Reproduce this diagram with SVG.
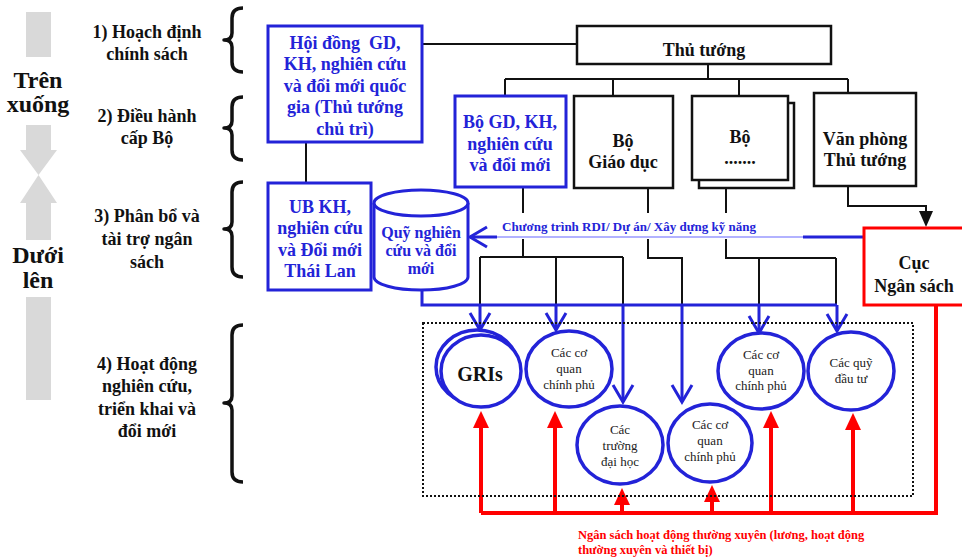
<svg xmlns="http://www.w3.org/2000/svg" width="962" height="559" viewBox="0 0 962 559">
<style>
text{font-family:'Liberation Serif','DejaVu Serif','Times New Roman',serif;text-anchor:middle}
.b{font-weight:bold}
.lbl{font-weight:bold;font-size:18px;fill:#111}
.big{font-weight:bold;font-size:24px;fill:#111}
.bt{font-weight:bold;fill:#2323d8}
.kt{font-weight:bold;font-size:18px;fill:#111}
.ct{font-size:13px;fill:#222}
.bbox{fill:#fff;stroke:#2323d8;stroke-width:3}
.kbox{fill:#fff;stroke:#111;stroke-width:2.5}
.circ{fill:#fff;stroke:#2323d8;stroke-width:3.5}
.kl{fill:none;stroke:#111;stroke-width:2}
.bl{fill:none;stroke:#2323d8;stroke-width:3}
.rl{fill:none;stroke:#ff0000;stroke-width:4}
.gray{fill:#d9d9d9}
.brace{fill:none;stroke:#111;stroke-width:3.5;stroke-linejoin:round}
</style>
<defs>
<marker id="ob" markerUnits="userSpaceOnUse" orient="auto" refX="0" refY="0" overflow="visible" markerWidth="20" markerHeight="22">
<path d="M-17,-10 L0,0 L-17,10" fill="none" stroke="#2323d8" stroke-width="3"/>
</marker>
<marker id="rf" markerUnits="userSpaceOnUse" orient="auto" refX="0" refY="0" overflow="visible" markerWidth="16" markerHeight="16">
<path d="M-1,-8 L16,0 L-1,8 z" fill="#ff0000"/>
</marker>
<marker id="kf" markerUnits="userSpaceOnUse" orient="auto" refX="0" refY="0" overflow="visible" markerWidth="16" markerHeight="16">
<path d="M-1,-7 L15,0 L-1,7 z" fill="#111"/>
</marker>
</defs>

<!-- left gray arrows -->
<g id="side-arrows">
<rect class="gray" x="26" y="12" width="25" height="45"/>
<path class="gray" d="M26,125 H51 V150 H57 L38.5,175 L20,150 H26 Z"/>
<path class="gray" d="M38.5,175 L57,203 H51 V240 H26 V203 H20 Z"/>
<rect class="gray" x="26" y="297" width="25" height="103"/>
<text class="big" x="38" y="88">Trên</text>
<text class="big" x="38" y="112">xuống</text>
<text class="big" x="38" y="263">Dưới</text>
<text class="big" x="38" y="288">lên</text>
</g>

<!-- level labels -->
<g id="levels">
<text class="lbl" x="147" y="38">1) Hoạch định</text>
<text class="lbl" x="147" y="60">chính sách</text>
<text class="lbl" x="147" y="122">2) Điều hành</text>
<text class="lbl" x="147" y="144">cấp Bộ</text>
<text class="lbl" x="147" y="222">3) Phân bổ và</text>
<text class="lbl" x="147" y="245">tài trợ ngân</text>
<text class="lbl" x="147" y="268">sách</text>
<text class="lbl" x="147" y="370">4) Hoạt động</text>
<text class="lbl" x="147" y="392">nghiên cứu,</text>
<text class="lbl" x="147" y="415">triển khai và</text>
<text class="lbl" x="147" y="437">đổi mới</text>
</g>

<!-- braces -->
<g id="braces">
<path class="brace" d="M243,8 Q232,8 232,18 V33 Q232,40 224,40 Q232,40 232,47 V62 Q232,72 243,72"/>
<path class="brace" d="M243,97 Q232,97 232,107 V121 Q232,128 224,128 Q232,128 232,135 V150 Q232,160 243,160"/>
<path class="brace" d="M243,182 Q232,182 232,192 V222 Q232,229 224,229 Q232,229 232,236 V267 Q232,277 243,277"/>
<path class="brace" d="M243,325 Q232,325 232,335 V396 Q232,403 224,403 Q232,403 232,410 V472 Q232,482 243,482"/>
</g>

<!-- connectors -->
<g id="connectors">
<path class="kl" d="M422,44 H578"/>
<path class="kl" d="M306,142 V183"/>
<path class="kl" d="M708,64 V79"/>
<path class="kl" d="M505,79 H848"/>
<path class="kl" d="M505,79 V96 M613,79 V96 M739,79 V96 M848,79 V93"/>
<path class="kl" d="M848,186 V206 H926 V212" marker-end="url(#kf)"/>
<path class="kl" d="M523,187 V257 M480,257 H623 M480,257 V305 M556,257 V305 M623,257 V305"/>
<path class="kl" d="M648,188 V258 H682 V305"/>
<path class="kl" d="M726,188 V258 H836 M759,258 V305 M836,258 V305"/>
<!-- RDI arrow -->
<rect x="498" y="213" width="304" height="26" fill="#fff"/>
<path d="M803,237 H497" fill="none" stroke="#9999ff" stroke-width="1.5"/>
<path class="bl" d="M863,237 H803"/>
<path class="bl" d="M497,237 H470" marker-end="url(#ob)"/>
<text class="bt" x="629" y="231" font-size="13">Chương trình RDI/ Dự án/ Xây dựng kỹ năng</text>
<!-- blue distribution -->
<path class="bl" d="M422,290 V305 H837"/>
<path class="bl" d="M480,305 V330" marker-end="url(#ob)"/>
<path class="bl" d="M556,305 V330" marker-end="url(#ob)"/>
<path class="bl" d="M623,305 V402" marker-end="url(#ob)"/>
<path class="bl" d="M682,305 V402" marker-end="url(#ob)"/>
<path class="bl" d="M759,305 V333" marker-end="url(#ob)"/>
<path class="bl" d="M837,305 V331" marker-end="url(#ob)"/>
<!-- red budget -->
<path class="rl" d="M936,305 V513 H481"/>
<path class="rl" d="M481,513 V427" marker-end="url(#rf)"/>
<path class="rl" d="M555,513 V427" marker-end="url(#rf)"/>
<path class="rl" d="M622,513 V504" marker-end="url(#rf)"/>
<path class="rl" d="M712,513 V501" marker-end="url(#rf)"/>
<path class="rl" d="M771,513 V427" marker-end="url(#rf)"/>
<path class="rl" d="M853,513 V429" marker-end="url(#rf)"/>
<text class="b" x="578" y="539" font-size="12.5" fill="#ff0000" style="text-anchor:start">Ngân sách hoạt động thường xuyên (lương, hoạt động</text>
<text class="b" x="578" y="554" font-size="12.5" fill="#ff0000" style="text-anchor:start">thường xuyên và thiết bị)</text>
</g>

<!-- dotted frame -->
<rect x="423" y="323" width="490" height="173" fill="none" stroke="#111" stroke-width="2" stroke-dasharray="2,2"/>

<g id="hoi-dong">
<rect class="bbox" x="268" y="26" width="154" height="116"/>
<text class="bt" font-size="18" x="345" y="49" xml:space="preserve">Hội đồng  GD,</text>
<text class="bt" font-size="18" x="345" y="70">KH, nghiên cứu</text>
<text class="bt" font-size="18" x="345" y="92">và đổi mới quốc</text>
<text class="bt" font-size="18" x="345" y="113">gia (Thủ tướng</text>
<text class="bt" font-size="18" x="345" y="135">chủ trì)</text>
</g>

<g id="thu-tuong">
<rect class="kbox" x="577" y="26" width="254" height="38"/>
<text class="kt" x="704" y="56">Thủ tướng</text>
</g>

<g id="bo-gd-kh">
<rect class="bbox" x="455" y="96" width="111" height="91"/>
<text class="bt" font-size="18" x="510" y="128">Bộ GD, KH,</text>
<text class="bt" font-size="18" x="510" y="150">nghiên cứu</text>
<text class="bt" font-size="18" x="510" y="171">và đổi mới</text>
</g>

<g id="bo-giao-duc">
<rect class="kbox" x="574" y="96" width="99" height="92"/>
<text class="kt" x="623" y="147">Bộ</text>
<text class="kt" x="623" y="168">Giáo dục</text>
</g>

<g id="bo-khac">
<rect class="kbox" x="699" y="103" width="95" height="85"/>
<rect class="kbox" x="692" y="96" width="96" height="84"/>
<text class="kt" x="740" y="143">Bộ</text>
<text class="kt" x="740" y="164">.......</text>
</g>

<g id="van-phong">
<rect class="kbox" x="814" y="93" width="102" height="93"/>
<text class="kt" x="865" y="145">Văn phòng</text>
<text class="kt" x="865" y="166">Thủ tướng</text>
</g>

<g id="cuc-ngan-sach">
<rect x="864" y="228" width="110" height="77" fill="#fff" stroke="#ff0000" stroke-width="3"/>
<text class="kt" x="914" y="269" font-size="19">Cục</text>
<text class="kt" x="914" y="292" font-size="19">Ngân sách</text>
</g>

<g id="ub-kh">
<rect class="bbox" x="268" y="183" width="103" height="107"/>
<text class="bt" font-size="18" x="320" y="213">UB KH,</text>
<text class="bt" font-size="18" x="320" y="234">nghiên cứu</text>
<text class="bt" font-size="18" x="320" y="256">và Đổi mới</text>
<text class="bt" font-size="18" x="320" y="277">Thái Lan</text>
</g>

<g id="quy">
<path class="bbox" d="M374,203 V277 A47,13 0 0 0 468,277 V203"/>
<ellipse class="bbox" cx="421" cy="203" rx="47" ry="13"/>
<text class="bt" font-size="16" x="421" y="238">Quỹ nghiên</text>
<text class="bt" font-size="16" x="421" y="256">cứu và đổi</text>
<text class="bt" font-size="16" x="421" y="274">mới</text>
</g>

<g id="gris">
<ellipse class="circ" cx="477" cy="367" rx="41" ry="37"/>
<ellipse class="circ" cx="481" cy="371" rx="40" ry="36"/>
<text class="b" x="480" y="381" font-size="20" fill="#111">GRIs</text>
</g>

<g id="co-quan-1">
<ellipse class="circ" cx="569" cy="369" rx="43" ry="38"/>
<text class="ct" x="569" y="357">Các cơ</text>
<text class="ct" x="569" y="373">quan</text>
<text class="ct" x="569" y="389">chính phủ</text>
</g>

<g id="truong-dai-hoc">
<ellipse class="circ" cx="620" cy="445" rx="43" ry="39"/>
<text class="ct" x="620" y="434">Các</text>
<text class="ct" x="620" y="450">trường</text>
<text class="ct" x="620" y="466">đại học</text>
</g>

<g id="co-quan-2">
<ellipse class="circ" cx="710" cy="443" rx="42" ry="39"/>
<text class="ct" x="710" y="429">Các cơ</text>
<text class="ct" x="710" y="445">quan</text>
<text class="ct" x="710" y="461">chính phủ</text>
</g>

<g id="co-quan-3">
<ellipse class="circ" cx="761" cy="371" rx="43" ry="38"/>
<text class="ct" x="761" y="359">Các cơ</text>
<text class="ct" x="761" y="375">quan</text>
<text class="ct" x="761" y="390">chính phủ</text>
</g>

<g id="quy-dau-tu">
<ellipse class="circ" cx="851" cy="371" rx="43" ry="39"/>
<text class="ct" x="851" y="367">Các quỹ</text>
<text class="ct" x="851" y="383">đầu tư</text>
</g>
</svg>
